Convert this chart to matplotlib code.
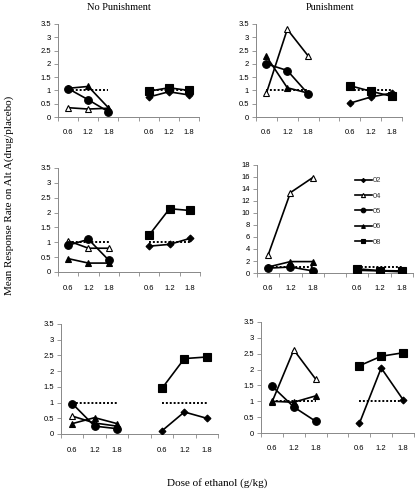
import matplotlib
matplotlib.use('Agg')
import matplotlib.pyplot as plt
import numpy as np

plt.rcParams['font.family'] = ['Liberation Sans', 'DejaVu Sans']

# x categories: two groups of doses with one empty slot between them
dose_labels = ['0.6', '1.2', '1.8', '', '0.6', '1.2', '1.8']
subjects = ['02', '04', '05', '06', '08']
reference = [1, 1, 1, None, 1, 1, 1]

# values per panel; None = blank category
# row 1, no punishment
np1_04 = [0.35, 0.30, 0.33, None, None, None, None]
np1_05 = [1.07, 0.65, 0.20, None, None, None, None]
np1_06 = [1.08, 1.15, 0.35, None, None, None, None]
np1_02 = [None, None, None, None, 0.75, 0.95, 0.83]
np1_08 = [None, None, None, None, 0.97, 1.10, 1.00]
# row 1, punishment
p1_04 = [0.90, 3.30, 2.30, None, None, None, None]
p1_05 = [2.00, 1.75, 0.87, None, None, None, None]
p1_06 = [2.28, 1.10, 0.90, None, None, None, None]
p1_02 = [None, None, None, None, 0.52, 0.75, 0.90]
p1_08 = [None, None, None, None, 1.18, 0.97, 0.78]
# row 2, no punishment
np2_04 = [1.05, 0.80, 0.80, None, None, None, None]
np2_05 = [0.90, 1.10, 0.40, None, None, None, None]
np2_06 = [0.45, 0.30, 0.30, None, None, None, None]
np2_02 = [None, None, None, None, 0.87, 0.93, 1.13]
np2_08 = [None, None, None, None, 1.25, 2.13, 2.07]
# row 2, punishment
p2_04 = [3.0, 13.4, 15.9, None, None, None, None]
p2_05 = [0.80, 1.00, 0.35, None, None, None, None]
p2_06 = [1.00, 1.90, 1.90, None, None, None, None]
p2_02 = [None, None, None, None, 0.45, 0.35, 0.20]
p2_08 = [None, None, None, None, 0.70, 0.40, 0.35]
# row 3, no punishment
np3_04 = [0.57, 0.35, 0.25, None, None, None, None]
np3_05 = [0.97, 0.25, 0.17, None, None, None, None]
np3_06 = [0.33, 0.52, 0.33, None, None, None, None]
np3_02 = [None, None, None, None, 0.10, 0.70, 0.50]
np3_08 = [None, None, None, None, 1.45, 2.40, 2.45]
# row 3, punishment
p3_04 = [0.97, 2.62, 1.70, None, None, None, None]
p3_05 = [1.48, 0.82, 0.37, None, None, None, None]
p3_06 = [1.00, 0.97, 1.17, None, None, None, None]
p3_02 = [None, None, None, None, 0.30, 2.05, 1.05]
p3_08 = [None, None, None, None, 2.12, 2.42, 2.53]

panels = [
    {'02': np1_02, '04': np1_04, '05': np1_05, '06': np1_06, '08': np1_08},
    {'02': p1_02, '04': p1_04, '05': p1_05, '06': p1_06, '08': p1_08},
    {'02': np2_02, '04': np2_04, '05': np2_05, '06': np2_06, '08': np2_08},
    {'02': p2_02, '04': p2_04, '05': p2_05, '06': p2_06, '08': p2_08},
    {'02': np3_02, '04': np3_04, '05': np3_05, '06': np3_06, '08': np3_08},
    {'02': p3_02, '04': p3_04, '05': p3_05, '06': p3_06, '08': p3_08},
]

styles = {
    '02': dict(marker='D', ms=3.5, mfc='black'),
    '04': dict(marker='^', ms=5, mfc='white'),
    '05': dict(marker='o', ms=5.5, mfc='black'),
    '06': dict(marker='^', ms=4.5, mfc='black'),
    '08': dict(marker='s', ms=5.5, mfc='black'),
}

# axes rectangles in pixels: left, right, top, bottom
W, H = 415, 491
boxes = [
    (58, 199, 24, 117), (256, 402, 24, 117),
    (58, 200, 168, 272), (257, 413, 165, 273),
    (61, 218, 324, 434), (261, 414, 322, 433),
]

fig = plt.figure(figsize=(W / 100, H / 100), dpi=100)
x = np.arange(len(dose_labels))

for i, (vals, (l, r, t, b)) in enumerate(zip(panels, boxes)):
    ax = fig.add_axes([l / W, 1 - b / H, (r - l) / W, (b - t) / H])
    ref = np.array([np.nan if v is None else v for v in reference], float)
    ax.plot(x[:3], ref[:3], color='black', ls=(0, (1, 1)), lw=1.4, zorder=2)
    ax.plot(x[4:], ref[4:], color='black', ls=(0, (1, 1)), lw=1.4, zorder=2)
    for s in subjects:
        y = np.array([np.nan if v is None else v for v in vals[s]], float)
        ax.plot(x, y, color='black', lw=1.2, mec='black', mew=0.8,
                label=s, zorder=3, **styles[s])

    ax.set_xlim(-0.5, 6.5)
    if i == 3:
        ax.set_ylim(0, 18)
        ax.set_yticks(np.arange(0, 19, 2))
    else:
        ax.set_ylim(0, 3.5)
        ax.set_yticks(np.arange(0, 3.6, 0.5))
        ax.set_yticklabels(['0', '0.5', '1', '1.5', '2', '2.5', '3', '3.5'])
    ax.set_xticks(np.arange(-0.5, 7, 1))
    ax.set_xticklabels([])
    ax.set_xticks(x, minor=True)
    ax.set_xticklabels(dose_labels, minor=True)
    ax.tick_params(axis='x', which='major', length=3, width=0.6, color='#888888')
    ax.tick_params(axis='x', which='minor', length=0, pad=9, labelsize=5.5)
    ax.tick_params(axis='y', length=3, width=0.6, color='#888888', labelsize=5.5, pad=2)
    for sp in ['top', 'right']:
        ax.spines[sp].set_visible(False)
    for sp in ['left', 'bottom']:
        ax.spines[sp].set_color('#888888')
        ax.spines[sp].set_linewidth(0.7)
    ax.patch.set_alpha(0)

    if i == 3:
        leg = ax.legend(loc='upper left', bbox_to_anchor=(348 / W, 1 - 170 / H),
                        bbox_transform=fig.transFigure, frameon=False,
                        fontsize=5.5, markerscale=0.6, handlelength=2.2,
                        handletextpad=0.2, labelspacing=1.05)
        for txt in leg.get_texts():
            txt.set_color('#333333')

serif = 'Liberation Serif'
fig.text(119 / W, 1 - 7 / H, 'No Punishment', ha='center', va='center',
         family=serif, fontsize=7.5)
fig.text(330 / W, 1 - 7 / H, 'Punishment', ha='center', va='center',
         family=serif, fontsize=7.5)
fig.text(9 / W, 1 - 195 / H, 'Mean Response Rate on Alt A(drug/placebo)',
         rotation=90, ha='center', va='center', family=serif, fontsize=8)
fig.text(217 / W, 1 - 483 / H, 'Dose of ethanol (g/kg)', ha='center',
         va='center', family=serif, fontsize=8)

fig.savefig('out.png', dpi=100)
